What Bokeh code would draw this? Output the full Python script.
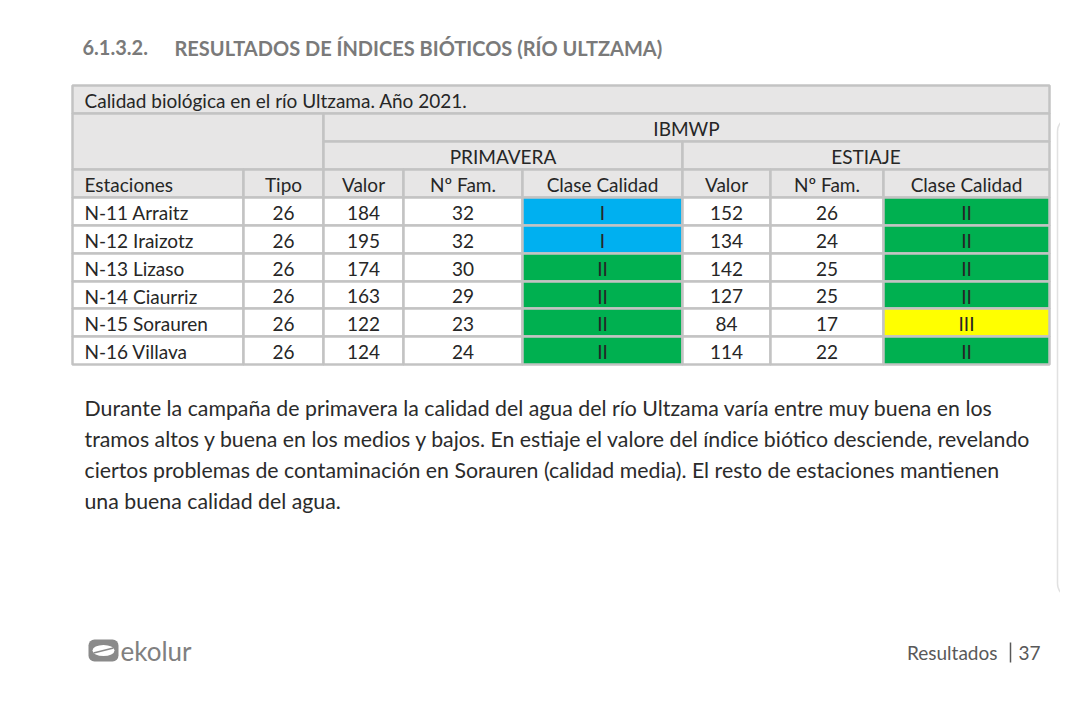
from bokeh.plotting import figure
from bokeh.models import Range1d, BoxAnnotation
from bokeh.core.properties import value
from bokeh.embed import file_html
from bokeh.resources import INLINE

# ---------------- data ----------------
estaciones = ["N-11 Arraitz", "N-12 Iraizotz", "N-13 Lizaso", "N-14 Ciaurriz", "N-15 Sorauren", "N-16 Villava"]
tipo = [26, 26, 26, 26, 26, 26]
prim_valor = [184, 195, 174, 163, 122, 124]
prim_fam = [32, 32, 30, 29, 23, 24]
prim_clase = ["I", "I", "II", "II", "II", "II"]
est_valor = [152, 134, 142, 127, 84, 114]
est_fam = [26, 24, 25, 25, 17, 22]
est_clase = ["II", "II", "II", "II", "III", "II"]
col_headers = ["Estaciones", "Tipo", "Valor", "Nº Fam.", "Clase Calidad", "Valor", "Nº Fam.", "Clase Calidad"]
table_title = "Calidad biológica en el río Ultzama. Año 2021."
index_name = "IBMWP"
campaigns = ["PRIMAVERA", "ESTIAJE"]
section_number = "6.1.3.2."
section_title = "RESULTADOS DE ÍNDICES BIÓTICOS (RÍO ULTZAMA)"
paragraph = [
    "Durante la campaña de primavera la calidad del agua del río Ultzama varía entre muy buena en los",
    "tramos altos y buena en los medios y bajos.  En estiaje el valore del índice biótico desciende, revelando",
    "ciertos problemas de contaminación en Sorauren (calidad media). El resto de estaciones mantienen",
    "una buena calidad del agua.",
]
footer_logo = "ekolur"
footer_section = "Resultados"
footer_page = "37"

class_colors = {"I": "#00b0f0", "II": "#00b050", "III": "#ffff00"}

# ---------------- layout ----------------
FONT = "Lato"
col_edges = [72, 243, 323, 403, 522, 682, 770, 883, 1049]
row_edges = [85, 113, 141, 169, 197, 225, 253, 281, 308, 336, 364]
HEAD = "#e7e6e6"
BORDER = "#c3c3c3"
TXT = "#262626"

p = figure(width=1060, height=686, x_range=Range1d(0, 1060), y_range=Range1d(686, 0),
           output_backend="svg", toolbar_location=None, x_axis_location=None, y_axis_location=None,
           min_border=0, outline_line_color=None, background_fill_color="white",
           border_fill_color="white")
p.grid.visible = False

# cells
L, R, T, B, F = [], [], [], [], []
tx, ty, tt, ta = [], [], [], []

def cell(l, r, t, b, fill, text=None, align="center"):
    L.append(l); R.append(r); T.append(t); B.append(b); F.append(fill)
    if text is not None:
        tx.append(l + 12 if align == "left" else (l + r) / 2)
        ty.append((t + b) / 2 + 1)
        tt.append(str(text)); ta.append(align)

cell(col_edges[0], col_edges[-1], row_edges[0], row_edges[1], HEAD, table_title, "left")
cell(col_edges[0], col_edges[2], row_edges[1], row_edges[3], HEAD)
cell(col_edges[2], col_edges[-1], row_edges[1], row_edges[2], HEAD, index_name)
cell(col_edges[2], col_edges[5], row_edges[2], row_edges[3], HEAD, campaigns[0])
cell(col_edges[5], col_edges[-1], row_edges[2], row_edges[3], HEAD, campaigns[1])
for j, h in enumerate(col_headers):
    cell(col_edges[j], col_edges[j + 1], row_edges[3], row_edges[4], HEAD, h, "left" if j == 0 else "center")

for i in range(len(estaciones)):
    vals = [estaciones[i], tipo[i], prim_valor[i], prim_fam[i], prim_clase[i],
            est_valor[i], est_fam[i], est_clase[i]]
    for j, v in enumerate(vals):
        fill = "white"
        if j == 4:
            fill = class_colors[prim_clase[i]]
        elif j == 7:
            fill = class_colors[est_clase[i]]
        cell(col_edges[j], col_edges[j + 1], row_edges[4 + i], row_edges[5 + i], fill, v,
             "left" if j == 0 else "center")

p.quad(left=L, right=R, top=T, bottom=B, fill_color=F, line_color=BORDER, line_width=2.5)
p.text(x=tx, y=ty, text=tt, text_align=ta, text_baseline="middle",
       text_font=value(FONT), text_font_size="19px", text_color=TXT)

# section title
p.text(x=[82, 174], y=[47, 47], text=[section_number, section_title], text_baseline="middle",
       text_font=value(FONT), text_font_size="20px", text_font_style="bold", text_color="#7a7a7a")

# paragraph
p.text(x=[84] * len(paragraph), y=[407, 438, 469, 500], text=paragraph, text_baseline="middle",
       text_font=value(FONT), text_font_size="21.3px", text_color="#2b2b2b")

# right-side rounded panel (partly outside the page)
p.add_layout(BoxAnnotation(left=1057, right=1120, top=117, bottom=597, fill_color=None,
                           line_color="#9a9a9a", line_width=1.5, border_radius=14))

# footer logo
p.add_layout(BoxAnnotation(left=88, right=118, top=639, bottom=661, fill_color="#8a8a8a",
                           fill_alpha=1, line_color=None, border_radius=6, level="underlay"))
p.ellipse(x=[103], y=[650], width=[22], height=[11], fill_color="white", line_color=None)
p.line(x=[93, 113], y=[652.5, 647.5], line_color="#8a8a8a", line_width=1.5)
p.text(x=[120], y=[650], text=[footer_logo], text_baseline="middle",
       text_font=value(FONT), text_font_size="26px", text_color="#808080")

p.text(x=[997, 1040], y=[652, 652], text=[footer_section, footer_page], text_align="right",
       text_baseline="middle", text_font=value(FONT), text_font_size="19px", text_color="#595959")
p.segment(x0=[1010], y0=[642], x1=[1010], y1=[662], line_color="#595959", line_width=1.5)

open("out.html", "w").write(file_html(p, INLINE))
